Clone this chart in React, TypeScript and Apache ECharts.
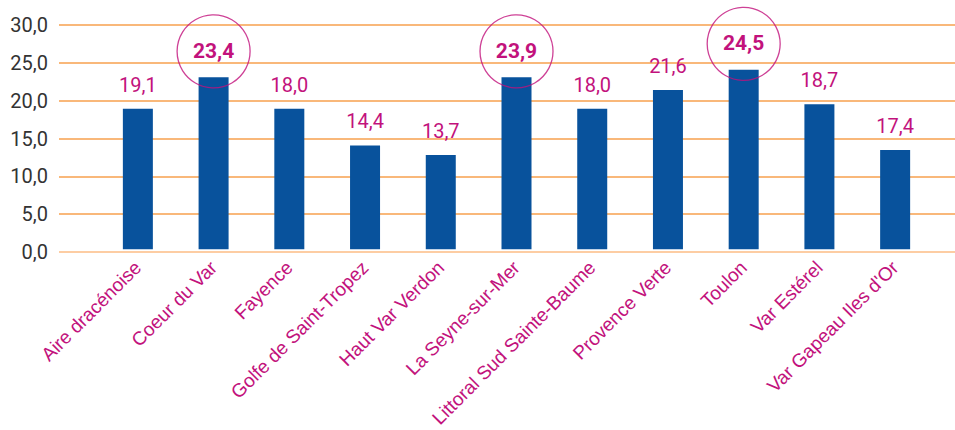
import React, { useEffect, useRef } from "react";
import * as echarts from "echarts";

const categories = [
  "Aire dracénoise",
  "Coeur du Var",
  "Fayence",
  "Golfe de Saint-Tropez",
  "Haut Var Verdon",
  "La Seyne-sur-Mer",
  "Littoral Sud Sainte-Baume",
  "Provence Verte",
  "Toulon",
  "Var Estérel",
  "Var Gapeau Iles d'Or",
];
// bar heights as drawn
const barValues = [18.8, 23.0, 18.8, 13.9, 12.6, 23.0, 18.8, 21.3, 24.0, 19.4, 13.3];
// value labels as printed
const valueLabels = ["19,1", "23,4", "18,0", "14,4", "13,7", "23,9", "18,0", "21,6", "24,5", "18,7", "17,4"];
const highlighted = [false, true, false, false, false, true, false, false, true, false, false];
const yTicks = { min: 0, max: 30, interval: 5 };

const MAGENTA = "#C2127C";
const BLUE = "#08529C";

export default function App() {
  const ref = useRef<HTMLDivElement>(null);
  useEffect(() => {
    if (!ref.current) return;
    const chart = echarts.init(ref.current, null, { renderer: "svg" });
    const barData = barValues.map((v, i) => ({
      value: v,
      label: highlighted[i]
        ? { fontWeight: "bold" as const, fontSize: 21, distance: 16 }
        : undefined,
    }));
    const circleData = barValues.map((v, i) => (highlighted[i] ? v : "-"));
    chart.setOption({
      animation: false,
      grid: [
        { left: 59, right: 0, top: 25, height: 227 },
        { left: 100, width: 833, top: 25, height: 227 },
      ],
      xAxis: [
        {
          gridIndex: 0,
          type: "value",
          min: 0,
          max: 1,
          show: false,
        },
        {
          gridIndex: 1,
          type: "category",
          data: categories,
          axisLine: { show: false },
          axisTick: { show: false },
          axisLabel: {
            interval: 0,
            rotate: 45,
            margin: 15,
            color: MAGENTA,
            fontSize: 19,
            fontFamily: "Liberation Sans, Arial, sans-serif",
          },
        },
      ],
      yAxis: [
        {
          gridIndex: 0,
          type: "value",
          min: yTicks.min,
          max: yTicks.max,
          interval: yTicks.interval,
          axisLine: { show: false },
          axisTick: { show: false },
          axisLabel: {
            margin: 11,
            color: "#333333",
            fontSize: 20,
            fontFamily: "Roboto, sans-serif",
            formatter: (v: number) => v.toFixed(1).replace(".", ","),
          },
          splitLine: {
            lineStyle: {
              color: ["#FDBD85", "#F7A04E", "#F7A04E", "#F7A04E", "#F7A04E", "#F7A04E", "#F7A04E"],
              width: 1.5,
            },
          },
        },
        {
          gridIndex: 1,
          type: "value",
          min: yTicks.min,
          max: yTicks.max,
          interval: yTicks.interval,
          show: false,
          splitLine: { show: false },
        },
      ],
      series: [
        {
          type: "bar",
          xAxisIndex: 1,
          yAxisIndex: 1,
          data: barData,
          barWidth: 30,
          itemStyle: { color: BLUE },
          label: {
            show: true,
            position: "top",
            distance: 14,
            color: MAGENTA,
            fontSize: 20,
            fontFamily: "Roboto, sans-serif",
            formatter: (p: any) => valueLabels[p.dataIndex],
          },
        },
        {
          type: "scatter",
          xAxisIndex: 1,
          yAxisIndex: 1,
          data: circleData,
          symbol: "circle",
          symbolSize: 73,
          symbolOffset: [0, -26],
          silent: true,
          z: 5,
          itemStyle: {
            color: "rgba(0,0,0,0)",
            borderColor: MAGENTA,
            borderWidth: 1.3,
          },
        },
      ],
    });
    return () => chart.dispose();
  }, []);
  return (
    <div
      ref={ref}
      style={{ position: "absolute", left: 0, top: 0, width: 955, height: 430, background: "#fff" }}
    />
  );
}
